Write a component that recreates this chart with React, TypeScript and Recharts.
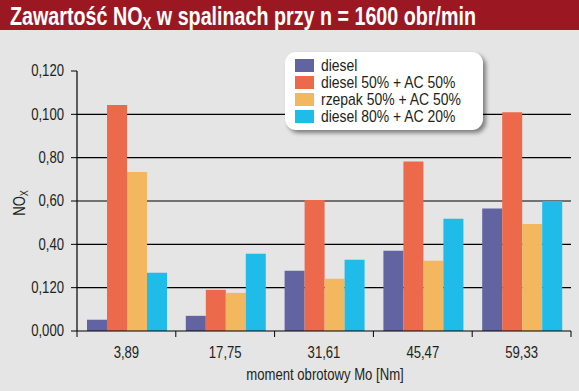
import { BarChart, Bar, XAxis, YAxis, Legend, CartesianGrid } from 'recharts';

const categories = ['3,89', '17,75', '31,61', '45,47', '59,33'];
const diesel = [0.0052, 0.007, 0.0278, 0.037, 0.0565];
const diesel50ac50 = [0.1043, 0.019, 0.0605, 0.0782, 0.101];
const rzepak50ac50 = [0.0734, 0.0176, 0.0241, 0.0324, 0.0494];
const diesel80ac20 = [0.0269, 0.0356, 0.0329, 0.0518, 0.06];

const yTicks = [0, 0.02, 0.04, 0.06, 0.08, 0.1, 0.12];
// labels exactly as printed on the original axis
const yTickLabels = ['0,000', '0,120', '0,40', '0,60', '0,80', '0,100', '0,120'];
const gridValues = [0.02, 0.04, 0.06, 0.08, 0.1];
const Y_MAX = 0.12;

const series = [
  { key: 'diesel', name: 'diesel', color: '#6264a1', values: diesel },
  { key: 'd50', name: 'diesel 50% + AC 50%', color: '#ec6a4b', values: diesel50ac50 },
  { key: 'r50', name: 'rzepak 50% + AC 50%', color: '#f3b75f', values: rzepak50ac50 },
  { key: 'd80', name: 'diesel 80% + AC 20%', color: '#1fbce9', values: diesel80ac20 },
];

const chartData = categories.map((cat, i) => {
  const row: any = { cat };
  series.forEach((s) => {
    row[s.key] = s.values[i];
  });
  return row;
});

// no condensed face installed -> squeeze Liberation Sans horizontally
const FONT = "'Liberation Sans', Arial, sans-serif";
const SQ = 0.82;
const TEXT = '#231f20';
const W = 579;
const H = 391;
const margin = { top: 71, right: 8, bottom: 10, left: 0 };
const Y_AXIS_W = 77;
const BAND = (W - margin.left - margin.right - Y_AXIS_W) / categories.length;

const gridCoords = ({ yAxis, offset }: any) => {
  const s = yAxis?.scale;
  return gridValues.map((v) => {
    if (typeof s === 'function') return s(v);
    if (s && typeof s.map === 'function') return s.map(v);
    return offset.top + offset.height * (1 - v / Y_MAX);
  });
};

const XTick = ({ x, y, payload, index }: any) => (
  <g>
    {index === 0 && <line x1={x - BAND / 2} x2={x - BAND / 2} y1={y} y2={y + 6} stroke="#000" />}
    <line x1={x + BAND / 2} x2={x + BAND / 2} y1={y} y2={y + 6} stroke="#000" />
    <text
      transform={`translate(${x},${y + 27}) scale(${SQ},1)`}
      textAnchor="middle"
      fill={TEXT}
      fontSize={16}
      fontFamily={FONT}
    >
      {payload.value}
    </text>
  </g>
);

const YTick = ({ x, y, payload }: any) => (
  <text
    transform={`translate(${x},${y}) scale(${SQ},1)`}
    textAnchor="end"
    dominantBaseline="central"
    fill={TEXT}
    fontSize={16}
    fontFamily={FONT}
  >
    {yTickLabels[yTicks.indexOf(payload.value)] ?? ''}
  </text>
);

const XLabel = ({ viewBox }: any) => {
  const cx = (viewBox?.x ?? 0) + (viewBox?.width ?? 0) / 2 + 1;
  const by = (viewBox?.y ?? 0) + 49;
  return (
    <text
      transform={`translate(${cx},${by}) scale(${SQ},1)`}
      textAnchor="middle"
      fill={TEXT}
      fontSize={16}
      fontFamily={FONT}
    >
      moment obrotowy Mo [Nm]
    </text>
  );
};

const NoxLabel = ({ viewBox }: any) => {
  const cx = (viewBox?.x ?? 0) + 20;
  const cy = (viewBox?.y ?? 0) + (viewBox?.height ?? 0) / 2 + 2;
  return (
    <text
      transform={`translate(${cx},${cy}) rotate(-90) scale(${SQ},1)`}
      textAnchor="middle"
      dominantBaseline="central"
      fill={TEXT}
      fontSize={16}
      fontFamily={FONT}
    >
      NO
      <tspan fontSize={11} dy={4}>
        X
      </tspan>
    </text>
  );
};

const LegendBox = ({ payload }: any) => {
  const items = [...(payload || [])].sort(
    (a: any, b: any) =>
      series.findIndex((s) => s.name === a.value) - series.findIndex((s) => s.name === b.value)
  );
  return (
    <div
      style={{
        width: 198,
        height: 78,
        boxSizing: 'border-box',
        background: '#fff',
        borderRadius: 11,
        boxShadow: '3px 3px 4px rgba(0,0,0,0.45)',
        padding: '5px 0 0 10px',
        fontFamily: FONT,
        fontSize: 17,
        color: TEXT,
      }}
    >
      {items.map((entry: any) => (
        <div key={entry.value} style={{ display: 'flex', alignItems: 'center', height: 17 }}>
          <span style={{ width: 19, height: 13, background: entry.color, marginRight: 7, flexShrink: 0 }} />
          <span
            style={{
              whiteSpace: 'nowrap',
              lineHeight: '17px',
              display: 'inline-block',
              transform: `scaleX(${SQ})`,
              transformOrigin: 'left center',
            }}
          >
            {entry.value}
          </span>
        </div>
      ))}
    </div>
  );
};

export default function App() {
  return (
    <div
      style={{
        position: 'fixed',
        left: 0,
        top: 0,
        width: W,
        height: H,
        background: '#e4e5e4',
        fontFamily: FONT,
      }}
    >
      <svg width={W} height={30} style={{ position: 'absolute', left: 0, top: 0, zIndex: 2 }}>
        <rect x={0} y={0} width={W} height={30} fill="#9b1823" />
        <text
          x={10}
          y={25}
          textLength={466}
          lengthAdjust="spacingAndGlyphs"
          fill="#fff"
          fontWeight="bold"
          fontSize={25}
          fontFamily={FONT}
        >
          Zawartość NO
          <tspan fontSize={17} dy={4}>
            X
          </tspan>
          <tspan dy={-4}> w spalinach przy n = 1600 obr/min</tspan>
        </text>
      </svg>
      <BarChart
        width={W}
        height={H}
        data={chartData}
        margin={margin}
        barCategoryGap={10}
        barGap={0}
      >
        <CartesianGrid
          vertical={false}
          stroke="#000"
          strokeWidth={1.2}
          horizontalCoordinatesGenerator={gridCoords}
        />
        <XAxis
          dataKey="cat"
          height={50}
          axisLine={{ stroke: '#000', strokeWidth: 1.2 }}
          tickLine={false}
          tickSize={0}
          tickMargin={0}
          tick={<XTick />}
          interval={0}
          label={<XLabel />}
        />
        <YAxis
          type="number"
          width={Y_AXIS_W}
          domain={[0, Y_MAX]}
          ticks={yTicks}
          interval={0}
          axisLine={{ stroke: '#000', strokeWidth: 1.2 }}
          tickLine={{ stroke: '#000' }}
          tickSize={6}
          tickMargin={7}
          tick={<YTick />}
          label={<NoxLabel />}
        />
        <Legend
          content={<LegendBox />}
          verticalAlign="middle"
          wrapperStyle={{ position: 'absolute', left: 285, top: 52, width: 198 }}
        />
        {series.map((s) => (
          <Bar key={s.key} dataKey={s.key} name={s.name} fill={s.color} isAnimationActive={false} />
        ))}
      </BarChart>
    </div>
  );
}
